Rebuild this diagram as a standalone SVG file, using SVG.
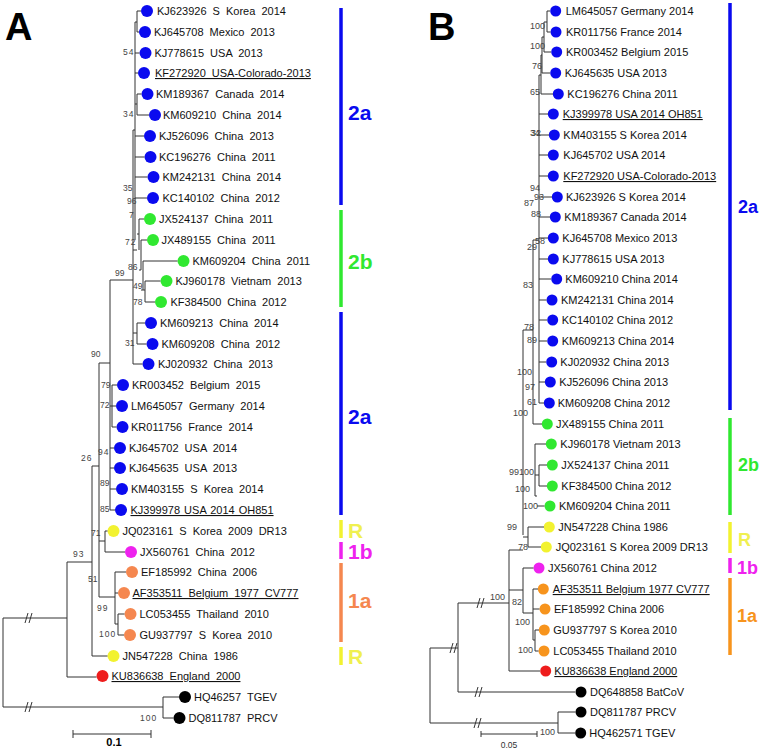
<svg xmlns="http://www.w3.org/2000/svg" width="763" height="750" viewBox="0 0 763 750">
<style>
.t{font-family:"Liberation Sans",Arial,sans-serif;font-size:11px;fill:#111}
.ta{word-spacing:3px}
.ul{text-decoration:underline}
.bs{font-family:"Liberation Sans",Arial,sans-serif;font-size:8.5px;fill:#444}
.bsb{font-family:"Liberation Sans",Arial,sans-serif;font-size:9px;fill:#444}
.bsa{letter-spacing:1px}
.br{stroke:#333;stroke-width:1;fill:none}
.brk{stroke:#333;stroke-width:1;fill:none}
.bar{stroke-width:3.5;fill:none}
.cl{font-family:"Liberation Sans",Arial,sans-serif;font-weight:bold}
.pl{font-family:"Liberation Sans",Arial,sans-serif;font-weight:bold;font-size:38px;fill:#000}
.bl{fill:#0a0aef}.gr{fill:#30e830}.ye{fill:#f2f230}.mg{fill:#ee22ee}.oa{fill:#f5874f}.ob{fill:#f7941d}.rd{fill:#ee1c1c}.bk{fill:#000}
</style>
<rect width="763" height="750" fill="#fff"/>
<text class="pl" x="5" y="40">A</text>
<text class="pl" x="428" y="40">B</text>

<!-- ===== Panel A leaves ===== -->
<g id="A_KJ623926"><circle class="bl" cx="147" cy="11" r="6"/><text class="t ta" x="157" y="15">KJ623926 S Korea 2014</text></g>
<g id="A_KJ645708"><circle class="bl" cx="145" cy="32" r="6"/><text class="t ta" x="154" y="36">KJ645708 Mexico 2013</text></g>
<g id="A_KJ778615"><circle class="bl" cx="145.5" cy="53" r="6"/><text class="t ta" x="154.5" y="57">KJ778615 USA 2013</text></g>
<g id="A_KF272920"><circle class="bl" cx="144" cy="73" r="6"/><text class="t ta ul" x="155" y="77">KF272920 USA-Colorado-2013</text></g>
<g id="A_KM189367"><circle class="bl" cx="147.5" cy="94" r="6"/><text class="t ta" x="156" y="98">KM189367 Canada 2014</text></g>
<g id="A_KM609210"><circle class="bl" cx="155" cy="115" r="6"/><text class="t ta" x="163" y="119">KM609210 China 2014</text></g>
<g id="A_KJ526096"><circle class="bl" cx="150" cy="136" r="6"/><text class="t ta" x="159" y="140">KJ526096 China 2013</text></g>
<g id="A_KC196276"><circle class="bl" cx="150.5" cy="157" r="6"/><text class="t ta" x="159" y="161">KC196276 China 2011</text></g>
<g id="A_KM242131"><circle class="bl" cx="153.5" cy="177" r="6"/><text class="t ta" x="162.5" y="181">KM242131 China 2014</text></g>
<g id="A_KC140102"><circle class="bl" cx="153" cy="198" r="6"/><text class="t ta" x="162.5" y="202">KC140102 China 2012</text></g>
<g id="A_JX524137"><circle class="gr" cx="150" cy="219" r="6"/><text class="t ta" x="159" y="223">JX524137 China 2011</text></g>
<g id="A_JX489155"><circle class="gr" cx="153" cy="240" r="6"/><text class="t ta" x="161.5" y="244">JX489155 China 2011</text></g>
<g id="A_KM609204"><circle class="gr" cx="183.5" cy="261" r="6"/><text class="t ta" x="192.5" y="265">KM609204 China 2011</text></g>
<g id="A_KJ960178"><circle class="gr" cx="166.5" cy="281" r="6"/><text class="t ta" x="175.5" y="285">KJ960178 Vietnam 2013</text></g>
<g id="A_KF384500"><circle class="gr" cx="161" cy="302" r="6"/><text class="t ta" x="170.5" y="306">KF384500 China 2012</text></g>
<g id="A_KM609213"><circle class="bl" cx="151" cy="323" r="6"/><text class="t ta" x="160" y="327">KM609213 China 2014</text></g>
<g id="A_KM609208"><circle class="bl" cx="152.5" cy="344" r="6"/><text class="t ta" x="161.5" y="348">KM609208 China 2012</text></g>
<g id="A_KJ020932"><circle class="bl" cx="148.5" cy="364" r="6"/><text class="t ta" x="158" y="368">KJ020932 China 2013</text></g>
<g id="A_KR003452"><circle class="bl" cx="123" cy="385" r="6"/><text class="t ta" x="132" y="389">KR003452 Belgium 2015</text></g>
<g id="A_LM645057"><circle class="bl" cx="122" cy="406" r="6"/><text class="t ta" x="131" y="410">LM645057 Germany 2014</text></g>
<g id="A_KR011756"><circle class="bl" cx="122.5" cy="427" r="6"/><text class="t ta" x="131" y="431">KR011756 France 2014</text></g>
<g id="A_KJ645702"><circle class="bl" cx="120" cy="448" r="6"/><text class="t ta" x="129" y="452">KJ645702 USA 2014</text></g>
<g id="A_KJ645635"><circle class="bl" cx="120" cy="468" r="6"/><text class="t ta" x="129" y="472">KJ645635 USA 2013</text></g>
<g id="A_KM403155"><circle class="bl" cx="122" cy="489" r="6"/><text class="t ta" x="131" y="493">KM403155 S Korea 2014</text></g>
<g id="A_KJ399978"><circle class="bl" cx="121" cy="510" r="6"/><text class="t ul" x="130.5" y="514" style="word-spacing:1px">KJ399978 USA 2014 OH851</text></g>
<g id="A_JQ023161"><circle class="ye" cx="113.5" cy="531" r="6"/><text class="t ta" x="122.5" y="535">JQ023161 S Korea 2009 DR13</text></g>
<g id="A_JX560761"><circle class="mg" cx="131" cy="552" r="6"/><text class="t ta" x="140" y="556">JX560761 China 2012</text></g>
<g id="A_EF185992"><circle class="oa" cx="132" cy="572" r="6"/><text class="t ta" x="141" y="576">EF185992 China 2006</text></g>
<g id="A_AF353511"><circle class="oa" cx="124" cy="593" r="6"/><text class="t ta ul" x="132.5" y="597">AF353511 Belgium 1977 CV777</text></g>
<g id="A_LC053455"><circle class="oa" cx="130.5" cy="614" r="6"/><text class="t ta" x="139.5" y="618">LC053455 Thailand 2010</text></g>
<g id="A_GU937797"><circle class="oa" cx="130" cy="635" r="6"/><text class="t ta" x="139.5" y="639">GU937797 S Korea 2010</text></g>
<g id="A_JN547228"><circle class="ye" cx="113.5" cy="656" r="6"/><text class="t ta" x="122.5" y="660">JN547228 China 1986</text></g>
<g id="A_KU836638"><circle class="rd" cx="102.5" cy="676" r="6"/><text class="t ta ul" x="111.5" y="680">KU836638 England 2000</text></g>
<g id="A_HQ46257"><circle class="bk" cx="185" cy="697" r="6"/><text class="t ta" x="194" y="701">HQ46257 TGEV</text></g>
<g id="A_DQ811787"><circle class="bk" cx="179.5" cy="718" r="6"/><text class="t ta" x="188.5" y="722">DQ811787 PRCV</text></g>

<!-- Panel A clade bars -->
<g id="A_clades">
<line class="bar" x1="341" y1="8" x2="341" y2="205" stroke="#0a0aef"/>
<text class="cl" x="348" y="120" font-size="21" fill="#0a0aef">2a</text>
<line class="bar" x1="341" y1="210" x2="341" y2="307" stroke="#30e830"/>
<text class="cl" x="348" y="269" font-size="21" fill="#30e830">2b</text>
<line class="bar" x1="341" y1="312" x2="341" y2="515" stroke="#0a0aef"/>
<text class="cl" x="348" y="424" font-size="21" fill="#0a0aef">2a</text>
<line class="bar" x1="341" y1="520" x2="341" y2="538" stroke="#f2f230"/>
<text class="cl" x="348" y="538" font-size="21" fill="#f0f050">R</text>
<line class="bar" x1="341" y1="542" x2="341" y2="559" stroke="#ee22ee"/>
<text class="cl" x="348" y="559" font-size="21" fill="#ee22ee">1b</text>
<line class="bar" x1="341" y1="563" x2="341" y2="642" stroke="#f5874f"/>
<text class="cl" x="348" y="608" font-size="21" fill="#f5874f">1a</text>
<line class="bar" x1="341" y1="647" x2="341" y2="665" stroke="#f2f230"/>
<text class="cl" x="348" y="664" font-size="21" fill="#f0f050">R</text>
</g>

<!-- Panel A connectors -->
<g id="A_connectors" class="br">
<path d="M137 11H141M137 11V32H139"/>
<path d="M135 22H137M135 22V240"/>
<path d="M135 53H139.5M135 73H138"/>
<path d="M137 94H141.5M137 94V115H149M135 104H137"/>
<path d="M135 136H144M135 157H144.5M135 177H147.5M135 198H147"/>
<path d="M139 219H144M139 219V250M137 234H139"/>
<path d="M141 240H147M141 240V270H139"/>
<path d="M143 261H177.5M143 261V290H141"/>
<path d="M145 281H160.5M145 281V302H155M143 290H145"/>
<path d="M133 130V364M133 130H135M133 250H137"/>
<path d="M137 323H145M137 323V344H146.5M133 333H137M133 364H142.5"/>
<path d="M110 280H133M110 280V510"/>
<path d="M112 385H117M112 385V427H116.5M110 406H116M110 448H114M110 468H114M110 489H116M110 510H115"/>
<path d="M99 363H110M99 363V597"/>
<path d="M105 531H107.5M105 531V552H125M99 541H105"/>
<path d="M99 597H115M115 572H126M115 572V624M115 593H118M115 624H118M118 614H124.5M118 614V635H124"/>
<path d="M92 466H99M92 466V656M92 656H107.5"/>
<path d="M67 562H92M67 562V677M67 677H96.5"/>
<path d="M3 618H67M3 618V707M3 707H163"/>
<path d="M163 697H179M163 697V718H173.5"/>
</g>
<g id="A_breaks" class="brk">
<path d="M25 623L28 613M29 623L32 613"/>
<path d="M25 712L28 702M29 712L32 702"/>
</g>
<g id="A_bootstrap" class="bs">
<text class="bsa" x="123" y="55">54</text>
<text class="bsa" x="123" y="117">34</text>
<text x="123" y="191">35</text>
<text x="127" y="204">96</text>
<text x="129" y="218">7</text>
<text class="bsa" x="125" y="245">72</text>
<text x="128" y="270">86</text>
<text x="115" y="276">99</text>
<text x="133" y="289">49</text>
<text x="133" y="305">78</text>
<text x="125" y="346">31</text>
<text x="91" y="357">90</text>
<text x="101" y="388">79</text>
<text x="100" y="408">72</text>
<text class="bsa" x="98" y="455">94</text>
<text class="bsa" x="81" y="461">26</text>
<text x="100" y="486">89</text>
<text x="100" y="512">85</text>
<text x="91" y="536">71</text>
<text class="bsa" x="73" y="557">93</text>
<text x="88" y="582">51</text>
<text class="bsa" x="97" y="611">99</text>
<text class="bsa" x="99" y="637">100</text>
<text class="bsa" x="140" y="721">100</text>
</g>
<g id="A_scale">
<path class="br" d="M73 734H151M73 730V738M151 730V738"/>
<text class="cl" x="114" y="746" font-size="11" text-anchor="middle" fill="#000">0.1</text>
</g>

<!-- ===== Panel B leaves ===== -->
<g id="B_LM645057"><circle class="bl" cx="555.7" cy="11" r="5.5"/><text class="t" x="565.7" y="15">LM645057 Germany 2014</text></g>
<g id="B_KR011756"><circle class="bl" cx="556" cy="32" r="5.5"/><text class="t" x="566" y="36">KR011756 France 2014</text></g>
<g id="B_KR003452"><circle class="bl" cx="556.7" cy="52" r="5.5"/><text class="t" x="566" y="56">KR003452 Belgium 2015</text></g>
<g id="B_KJ645635"><circle class="bl" cx="555.7" cy="73" r="5.5"/><text class="t" x="564.7" y="77">KJ645635 USA 2013</text></g>
<g id="B_KC196276"><circle class="bl" cx="558.3" cy="94" r="5.5"/><text class="t" x="567.3" y="98">KC196276 China 2011</text></g>
<g id="B_KJ399978"><circle class="bl" cx="553.3" cy="114" r="5.5"/><text class="t ul" x="562.7" y="118">KJ399978 USA 2014 OH851</text></g>
<g id="B_KM403155"><circle class="bl" cx="554.3" cy="135" r="5.5"/><text class="t" x="563.3" y="139">KM403155 S Korea 2014</text></g>
<g id="B_KJ645702"><circle class="bl" cx="553.3" cy="155" r="5.5"/><text class="t" x="563.3" y="159">KJ645702 USA 2014</text></g>
<g id="B_KF272920"><circle class="bl" cx="553.3" cy="176" r="5.5"/><text class="t ul" x="563.3" y="180">KF272920 USA-Colorado-2013</text></g>
<g id="B_KJ623926"><circle class="bl" cx="557.3" cy="197" r="5.5"/><text class="t" x="566" y="201">KJ623926 S Korea 2014</text></g>
<g id="B_KM189367"><circle class="bl" cx="555.3" cy="217" r="5.5"/><text class="t" x="564.3" y="221">KM189367 Canada 2014</text></g>
<g id="B_KJ645708"><circle class="bl" cx="553.3" cy="238" r="5.5"/><text class="t" x="562.3" y="242">KJ645708 Mexico 2013</text></g>
<g id="B_KJ778615"><circle class="bl" cx="553.3" cy="259" r="5.5"/><text class="t" x="562.3" y="263">KJ778615 USA 2013</text></g>
<g id="B_KM609210"><circle class="bl" cx="556.7" cy="279" r="5.5"/><text class="t" x="565.3" y="283">KM609210 China 2014</text></g>
<g id="B_KM242131"><circle class="bl" cx="552" cy="300" r="5.5"/><text class="t" x="561" y="304">KM242131 China 2014</text></g>
<g id="B_KC140102"><circle class="bl" cx="552.7" cy="320" r="5.5"/><text class="t" x="561.7" y="324">KC140102 China 2012</text></g>
<g id="B_KM609213"><circle class="bl" cx="552.7" cy="341" r="5.5"/><text class="t" x="561.7" y="345">KM609213 China 2014</text></g>
<g id="B_KJ020932"><circle class="bl" cx="551.7" cy="362" r="5.5"/><text class="t" x="560.3" y="366">KJ020932 China 2013</text></g>
<g id="B_KJ526096"><circle class="bl" cx="550.3" cy="382" r="5.5"/><text class="t" x="559.3" y="386">KJ526096 China 2013</text></g>
<g id="B_KM609208"><circle class="bl" cx="549.3" cy="403" r="5.5"/><text class="t" x="557.7" y="407">KM609208 China 2012</text></g>
<g id="B_JX489155"><circle class="gr" cx="547.3" cy="424" r="5.5"/><text class="t" x="556" y="428">JX489155 China 2011</text></g>
<g id="B_KJ960178"><circle class="gr" cx="551.3" cy="444" r="5.5"/><text class="t" x="560.3" y="448">KJ960178 Vietnam 2013</text></g>
<g id="B_JX524137"><circle class="gr" cx="552.3" cy="465" r="5.5"/><text class="t" x="561.3" y="469">JX524137 China 2011</text></g>
<g id="B_KF384500"><circle class="gr" cx="552.3" cy="486" r="5.5"/><text class="t" x="561.3" y="490">KF384500 China 2012</text></g>
<g id="B_KM609204"><circle class="gr" cx="550" cy="506" r="5.5"/><text class="t" x="559" y="510">KM609204 China 2011</text></g>
<g id="B_JN547228"><circle class="ye" cx="549.3" cy="527" r="5.5"/><text class="t" x="558.3" y="531">JN547228 China 1986</text></g>
<g id="B_JQ023161"><circle class="ye" cx="546.3" cy="547" r="5.5"/><text class="t" x="555.7" y="551">JQ023161 S Korea 2009 DR13</text></g>
<g id="B_JX560761"><circle class="mg" cx="539" cy="568" r="5.5"/><text class="t" x="548" y="572">JX560761 China 2012</text></g>
<g id="B_AF353511"><circle class="ob" cx="543.3" cy="589" r="5.5"/><text class="t ul" x="552.7" y="593">AF353511 Belgium 1977 CV777</text></g>
<g id="B_EF185992"><circle class="ob" cx="545" cy="609" r="5.5"/><text class="t" x="554" y="613">EF185992 China 2006</text></g>
<g id="B_GU937797"><circle class="ob" cx="544.3" cy="630" r="5.5"/><text class="t" x="553.3" y="634">GU937797 S Korea 2010</text></g>
<g id="B_LC053455"><circle class="ob" cx="544" cy="651" r="5.5"/><text class="t" x="553.3" y="655">LC053455 Thailand 2010</text></g>
<g id="B_KU836638"><circle class="rd" cx="545.7" cy="671" r="5.5"/><text class="t ul" x="554.3" y="675">KU836638 England 2000</text></g>
<g id="B_DQ648858"><circle class="bk" cx="581" cy="692" r="5.5"/><text class="t" x="590" y="696">DQ648858 BatCoV</text></g>
<g id="B_DQ811787"><circle class="bk" cx="581" cy="712" r="5.5"/><text class="t" x="590" y="716">DQ811787 PRCV</text></g>
<g id="B_HQ462571"><circle class="bk" cx="580.7" cy="733" r="5.5"/><text class="t" x="589.3" y="737">HQ462571 TGEV</text></g>

<!-- Panel B clade bars -->
<g id="B_clades">
<line class="bar" x1="730" y1="3" x2="730" y2="410" stroke="#0a0aef"/>
<text class="cl" x="738" y="213" font-size="18" fill="#0a0aef">2a</text>
<line class="bar" x1="730" y1="418" x2="730" y2="515" stroke="#30e830"/>
<text class="cl" x="738" y="471" font-size="18" fill="#30e830">2b</text>
<line class="bar" x1="730" y1="522" x2="730" y2="553" stroke="#f2f230"/>
<text class="cl" x="738" y="546" font-size="18" fill="#f0f050">R</text>
<line class="bar" x1="730" y1="558" x2="730" y2="573" stroke="#ee22ee"/>
<text class="cl" x="737" y="574" font-size="18" fill="#ee22ee">1b</text>
<line class="bar" x1="730" y1="578" x2="730" y2="655" stroke="#f7941d"/>
<text class="cl" x="737" y="622" font-size="18" fill="#f7941d">1a</text>
</g>

<!-- Panel B connectors -->
<g id="B_connectors" class="br">
<path d="M547 11H550M547 11V32H550.5"/>
<path d="M544 22H547M544 22V52H551"/>
<path d="M542 37H544M542 37V73H550"/>
<path d="M541 55H542M541 55V94H553"/>
<path d="M539 75H541M539 75V403"/>
<path d="M539 114H548M539 135H549M539 155H548M539 176H548M539 197H552M539 217H550M539 238H548M539 259H548M539 279H551M539 300H546.5M539 320H547M539 341H547M539 362H546M539 382H545M539 403H544"/>
<path d="M533 240H539M533 240V424H542"/>
<path d="M535 444H546M535 444V496M539 465H547M539 465V486H547M535 475H539M537 506H544.5M535 496H537"/>
<path d="M523 330H533M523 330V535"/>
<path d="M528 527H544M528 527V547H541M523 537H528"/>
<path d="M509 550H523M509 550V671H540"/>
<path d="M523 568H533.5M523 568V613M509 590H523"/>
<path d="M533 589H538M533 589V640M533 609H539.5M533 640H535M535 630H539M535 630V651H538.5M523 613H533"/>
<path d="M458 603H509M458 603V692H575"/>
<path d="M430 648H458M430 648V723H558"/>
<path d="M558 712H575.5M558 712V733H575"/>
</g>
<g id="B_breaks" class="brk">
<path d="M450 653L453 643M454 653L457 643"/>
<path d="M477 608L480 598M481 608L484 598"/>
<path d="M475 697L478 687M479 697L482 687"/>
<path d="M474 728L477 718M478 728L481 718"/>
</g>
<g id="B_bootstrap" class="bsb">
<text x="530" y="29">100</text>
<text x="530" y="49">100</text>
<text x="532" y="69">76</text>
<text x="530" y="95">65</text>
<text x="530" y="136">34</text>
<text x="531" y="136">32</text>
<text x="530" y="191">94</text>
<text x="524" y="206">87</text>
<text x="534" y="200">93</text>
<text x="531" y="217">88</text>
<text x="535" y="244">58</text>
<text x="527" y="250">29</text>
<text x="523" y="288">83</text>
<text x="524" y="330">78</text>
<text x="527" y="343">89</text>
<text x="517" y="375">100</text>
<text x="525" y="390">97</text>
<text x="527" y="405">61</text>
<text x="513" y="416">100</text>
<text x="509" y="475">99</text>
<text x="519" y="475">100</text>
<text x="515" y="492">100</text>
<text x="523" y="509">100</text>
<text x="507" y="530">99</text>
<text x="518" y="550">78</text>
<text x="512" y="605">82</text>
<text x="490" y="600">100</text>
<text x="515" y="625">100</text>
<text x="518" y="653">100</text>
<text x="540" y="735">100</text>
</g>
<g id="B_scale">
<path class="br" d="M481 734H537M481 731V737M537 731V737"/>
<text x="509" y="748" font-family="Liberation Sans, Arial, sans-serif" font-size="8.5" fill="#333" text-anchor="middle">0.05</text>
</g>
</svg>
